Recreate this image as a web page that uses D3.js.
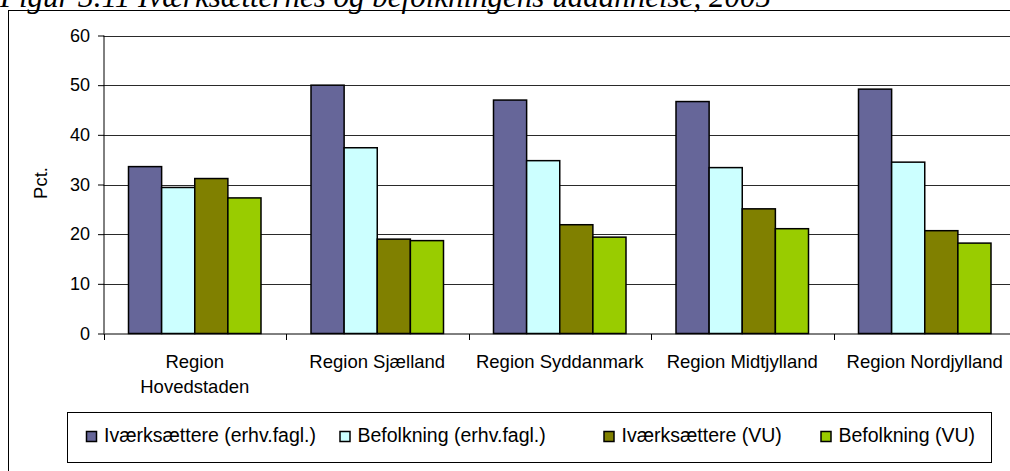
<!DOCTYPE html>
<html>
<head>
<meta charset="utf-8">
<script src="https://cdn.jsdelivr.net/npm/d3@7"></script>
<style>
  body { margin: 0; background: #fff; }
  svg { display: block; }
</style>
</head>
<body>
<div id="chart"></div>
<script>
const width = 1010, height = 471;

// data
const regions = ["Region Hovedstaden", "Region Sjælland", "Region Syddanmark", "Region Midtjylland", "Region Nordjylland"];
// how the category labels were broken in the original
const regionLines = [["Region", "Hovedstaden"], ["Region Sjælland"], ["Region Syddanmark"], ["Region Midtjylland"], ["Region Nordjylland"]];
const seriesNames = ["Iværksættere (erhv.fagl.)", "Befolkning (erhv.fagl.)", "Iværksættere (VU)", "Befolkning (VU)"];
const ivaerkErhv = [33.6, 50.0, 47.0, 46.7, 49.2];
const befErhv    = [29.4, 37.4, 34.8, 33.4, 34.5];
const ivaerkVU   = [31.2, 19.0, 21.9, 25.1, 20.7];
const befVU      = [27.3, 18.7, 19.4, 21.1, 18.2];
const yTicks = [0, 10, 20, 30, 40, 50, 60];
const seriesColors = ["#666699", "#ccffff", "#808000", "#99cc00"];

const allSeries = [ivaerkErhv, befErhv, ivaerkVU, befVU];

const svg = d3.select("#chart").append("svg")
    .attr("width", width)
    .attr("height", height)
    .style("font-family", "'Liberation Sans', Arial, sans-serif");

// title, cut off at the top like the original scan
svg.append("text")
    .attr("x", 0)
    .attr("y", 7)
    .style("font-family", "'Liberation Serif', 'Times New Roman', serif")
    .style("font-style", "italic")
    .style("font-size", "31px")
    .text("Figur 3.11 Iværksætternes og befolkningens uddannelse, 2005");

// outer chart frame (right and bottom fall outside the picture)
svg.append("rect")
    .attr("x", 8.5).attr("y", 10.5)
    .attr("width", 1020).attr("height", 480)
    .attr("fill", "none")
    .attr("stroke", "#000");

const plotLeft = 103.5, plotRight = 1016, plotTop = 35.5, plotBottom = 333.5;

const x0 = d3.scaleBand().domain(regions).range([plotLeft, plotRight]);
const x1 = d3.scaleBand().domain(d3.range(seriesNames.length)).range([25, x0.bandwidth() - 25]);
const y = d3.scaleLinear().domain([0, 60]).range([plotBottom, plotTop]);

// gridlines
svg.append("g").selectAll("line")
    .data(yTicks.filter(d => d > 0))
    .enter().append("line")
    .attr("x1", plotLeft).attr("x2", plotRight)
    .attr("y1", d => Math.round(y(d)) + 0.5).attr("y2", d => Math.round(y(d)) + 0.5)
    .attr("stroke", "#2a2a2a")
    .attr("stroke-width", 1);

// bars
const groups = svg.append("g").selectAll("g")
    .data(regions)
    .enter().append("g")
    .attr("transform", d => "translate(" + x0(d) + ",0)");

groups.selectAll("rect")
    .data((d, i) => allSeries.map((s, k) => ({ k: k, v: s[i] })))
    .enter().append("rect")
    .attr("x", d => x1(d.k))
    .attr("y", d => y(d.v))
    .attr("width", x1.bandwidth())
    .attr("height", d => y(0) - y(d.v))
    .attr("fill", d => seriesColors[d.k])
    .attr("stroke", "#000")
    .attr("stroke-width", 1.5);

// y axis
const yAxis = svg.append("g")
    .attr("transform", "translate(" + (plotLeft + 0.5) + ",0)")
    .call(d3.axisLeft(y).tickValues(yTicks).tickSize(6).tickPadding(8));
yAxis.selectAll("text").style("font-size", "18px").attr("fill", "#000").attr("font-family", null);
yAxis.selectAll("line, path").attr("stroke", "#000");
yAxis.select(".domain").attr("d", "M0," + y(60) + "V" + y(0));

// x axis with ticks between categories
const xAxis = svg.append("g")
    .attr("transform", "translate(0," + (plotBottom + 0.5) + ")");
xAxis.append("line")
    .attr("x1", plotLeft).attr("x2", plotRight)
    .attr("stroke", "#000");
xAxis.selectAll(".tick")
    .data(regions)
    .enter().append("line")
    .attr("x1", d => Math.round(x0(d)) + 0.5).attr("x2", d => Math.round(x0(d)) + 0.5)
    .attr("y1", 0).attr("y2", 6)
    .attr("stroke", "#000");

// category labels
const catLabels = svg.append("g").selectAll("text")
    .data(regions)
    .enter().append("text")
    .attr("text-anchor", "middle")
    .attr("y", 368)
    .style("font-size", "18.5px");

catLabels.selectAll("tspan")
    .data((d, i) => regionLines[i].map(line => ({ region: d, line: line })))
    .enter().append("tspan")
    .attr("x", d => x0(d.region) + x0.bandwidth() / 2)
    .attr("dy", (d, i) => i === 0 ? 0 : 25)
    .text(d => d.line);

// y axis title
svg.append("text")
    .attr("transform", "translate(46.5,183)rotate(-90)")
    .attr("text-anchor", "middle")
    .style("font-size", "18.5px")
    .text("Pct.");

// legend
const legendX = [86.5, 340, 604, 821];
const legend = svg.append("g");
legend.append("rect")
    .attr("x", 67.5).attr("y", 412.5)
    .attr("width", 924).attr("height", 50)
    .attr("fill", "#fff")
    .attr("stroke", "#000");

const items = legend.selectAll("g.item")
    .data(seriesNames)
    .enter().append("g")
    .attr("class", "item")
    .attr("transform", (d, k) => "translate(" + legendX[k] + ",0)");

items.append("rect")
    .attr("x", 0).attr("y", 431.5)
    .attr("width", 10).attr("height", 10)
    .attr("fill", (d, k) => seriesColors[k])
    .attr("stroke", "#000")
    .attr("stroke-width", 1.5);

items.append("text")
    .attr("x", 17.5)
    .attr("y", 442)
    .style("font-size", "19.5px")
    .text(d => d);
</script>
</body>
</html>
